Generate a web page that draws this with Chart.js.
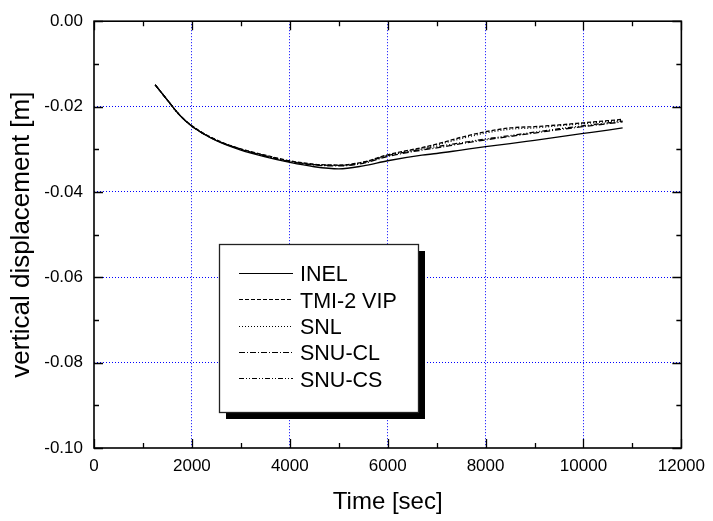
<!DOCTYPE html>
<html>
<head>
<meta charset="utf-8">
<script src="https://cdn.jsdelivr.net/npm/chart.js@4.4.1/dist/chart.umd.min.js"></script>
<style>
  html, body { margin: 0; padding: 0; background: #fff; }
  canvas { display: block; }
</style>
</head>
<body>
<canvas id="c" width="713" height="521"></canvas>
<script>
// ---- data ----
const timeSec = [1250, 1500, 1750, 2000, 2500, 3000, 3500, 4000, 4500, 5000, 5500, 6000, 6700, 7000, 7500, 8000, 8500, 9000, 9500, 10000, 10500, 10800];
const inel   = [-0.0149,-0.0185,-0.0220,-0.0246,-0.0280,-0.0302,-0.0318,-0.0331,-0.0341,-0.0346,-0.0339,-0.0327,-0.0314,-0.0310,-0.0302,-0.0294,-0.0287,-0.0279,-0.0271,-0.0263,-0.0255,-0.0250];
const tmi2   = [-0.0149,-0.0185,-0.0220,-0.0245,-0.0278,-0.0299,-0.0314,-0.0327,-0.0335,-0.0337,-0.0330,-0.0313,-0.0296,-0.0288,-0.0272,-0.0259,-0.0250,-0.0247,-0.0243,-0.0238,-0.0233,-0.0230];
const snl    = [-0.0149,-0.0185,-0.0220,-0.0245,-0.0279,-0.0300,-0.0315,-0.0328,-0.0336,-0.0338,-0.0331,-0.0314,-0.0298,-0.0290,-0.0275,-0.0262,-0.0253,-0.0250,-0.0245,-0.0240,-0.0235,-0.0232];
const snuCL  = [-0.0149,-0.0185,-0.0220,-0.0246,-0.0279,-0.0300,-0.0316,-0.0329,-0.0337,-0.0339,-0.0333,-0.0317,-0.0302,-0.0297,-0.0287,-0.0278,-0.0270,-0.0262,-0.0254,-0.0247,-0.0240,-0.0236];
const snuCS  = [-0.0149,-0.0185,-0.0220,-0.0246,-0.0279,-0.0300,-0.0315,-0.0328,-0.0336,-0.0338,-0.0331,-0.0315,-0.0300,-0.0294,-0.0285,-0.0276,-0.0268,-0.0260,-0.0252,-0.0245,-0.0238,-0.0234];
const seriesNames = ['INEL', 'TMI-2 VIP', 'SNL', 'SNU-CL', 'SNU-CS'];
const xTickStep = 1000, xLabelStep = 2000;
const yTickStep = 0.01;
const xTitle = 'Time [sec]';
const yTitle = 'vertical displacement [m]';

// ---- styles ----
const FONT = '"Liberation Sans", Arial, sans-serif';
const dashes = [[], [4, 2], [1, 2], [6, 2, 1, 2], [5, 2, 1, 2, 1, 2]];
const valueSets = [inel, tmi2, snl, snuCL, snuCS];

const datasets = seriesNames.map((name, i) => ({
  label: name,
  data: timeSec.map((t, k) => ({ x: t, y: valueSets[i][k] })),
  borderColor: '#000',
  borderWidth: 1.3,
  borderDash: dashes[i],
  pointRadius: 0,
  fill: false,
  cubicInterpolationMode: 'monotone'
}));

const GRID_BLUE = '#0000ff';

const framePlugin = {
  id: 'frame',
  afterDatasetsDraw(chart) {
    // legend box with shadow
    const ctx = chart.ctx;
    const L = 219, T = 244, R = 418, B = 412, S = 7;
    ctx.save();
    ctx.fillStyle = '#000';
    ctx.fillRect(L + S, T + S, R - L, B - T);
    ctx.fillStyle = '#fff';
    ctx.fillRect(L, T, R - L, B - T);
    ctx.strokeStyle = '#222';
    ctx.lineWidth = 1.3;
    ctx.strokeRect(L + 0.5, T + 0.5, R - L, B - T);
    const rowY0 = 275, rowDy = 26.3;
    chart.data.datasets.forEach((ds, i) => {
      const y = rowY0 + i * rowDy;
      ctx.beginPath();
      ctx.setLineDash(ds.borderDash);
      ctx.lineWidth = 1.2;
      ctx.strokeStyle = '#000';
      ctx.moveTo(239, Math.round(y) - 1.5);
      ctx.lineTo(293, Math.round(y) - 1.5);
      ctx.stroke();
      ctx.setLineDash([]);
      ctx.fillStyle = '#000';
      ctx.font = '21.5px ' + FONT;
      ctx.textBaseline = 'middle';
      ctx.textAlign = 'left';
      ctx.fillText(ds.label, 300, y + 0.5);
    });
    ctx.restore();
  },
  afterDraw(chart) {
    const ctx = chart.ctx;
    const a = chart.chartArea;
    const xs = chart.scales.x, ys = chart.scales.y;
    ctx.save();
    ctx.strokeStyle = '#000';
    ctx.lineWidth = 1.6;
    ctx.strokeRect(a.left, a.top, a.right - a.left, a.bottom - a.top);
    ctx.lineWidth = 1.3;
    ctx.beginPath();
    for (let v = xs.min; v <= xs.max + 1; v += xTickStep) {
      const px = Math.round(xs.getPixelForValue(v)) + 0.5;
      const len = (Math.round(v) % xLabelStep === 0) ? 9 : 5;
      ctx.moveTo(px, a.bottom); ctx.lineTo(px, a.bottom - len);
      ctx.moveTo(px, a.top); ctx.lineTo(px, a.top + len);
    }
    for (let k = 0; k <= 10; k++) {
      const v = ys.min + k * yTickStep;
      const py = Math.round(ys.getPixelForValue(v)) + 0.5;
      const len = (k % 2 === 0) ? 9 : 5;
      ctx.moveTo(a.left, py); ctx.lineTo(a.left + len, py);
      ctx.moveTo(a.right, py); ctx.lineTo(a.right - len, py);
    }
    ctx.stroke();
    ctx.restore();
  }
};

new Chart(document.getElementById('c'), {
  type: 'line',
  data: { datasets },
  plugins: [framePlugin],
  options: {
    responsive: false,
    animation: false,
    devicePixelRatio: 1,
    layout: { padding: { top: 15, right: 28, left: 0, bottom: 0 } },
    plugins: { legend: { display: false }, tooltip: { enabled: false } },
    scales: {
      x: {
        type: 'linear',
        min: 0, max: 12000,
        afterFit(s) { s.height = 73; },
        ticks: {
          stepSize: xTickStep,
          autoSkip: false,
          maxRotation: 0,
          padding: 8,
          color: '#000',
          font: { family: FONT, size: 17 },
          callback: (v) => (Math.round(v) % xLabelStep === 0 ? String(v) : '')
        },
        grid: {
          drawTicks: false,
          lineWidth: 1,
          color: (c) => {
            const v = c.tick ? c.tick.value : 0;
            return (Math.round(v) % xLabelStep === 0 && v > 0 && v < 12000) ? GRID_BLUE : 'rgba(0,0,0,0)';
          }
        },
        border: { display: false, dash: [1, 2] },
        title: {
          display: true, text: xTitle, color: '#000',
          font: { family: FONT, size: 24 },
          padding: { top: 0, bottom: 4 }
        }
      },
      y: {
        type: 'linear',
        min: -0.1, max: 0,
        afterFit(s) { s.width = 94; },
        ticks: {
          stepSize: yTickStep,
          autoSkip: false,
          padding: 11,
          color: '#000',
          font: { family: FONT, size: 17 },
          callback: (v) => (Math.abs(Math.round(v * 100)) % 2 === 0 ? (Math.abs(v) < 1e-9 ? '0.00' : v.toFixed(2)) : '')
        },
        grid: {
          drawTicks: false,
          lineWidth: 1,
          color: (c) => {
            const v = c.tick ? c.tick.value : 0;
            return (Math.abs(Math.round(v * 100)) % 2 === 0 && v < -0.005 && v > -0.095) ? GRID_BLUE : 'rgba(0,0,0,0)';
          }
        },
        border: { display: false, dash: [1, 2] },
        title: {
          display: true, text: yTitle, color: '#000',
          font: { family: FONT, size: 26 },
          padding: { top: 6, bottom: 0 }
        }
      }
    }
  }
});
</script>
</body>
</html>
